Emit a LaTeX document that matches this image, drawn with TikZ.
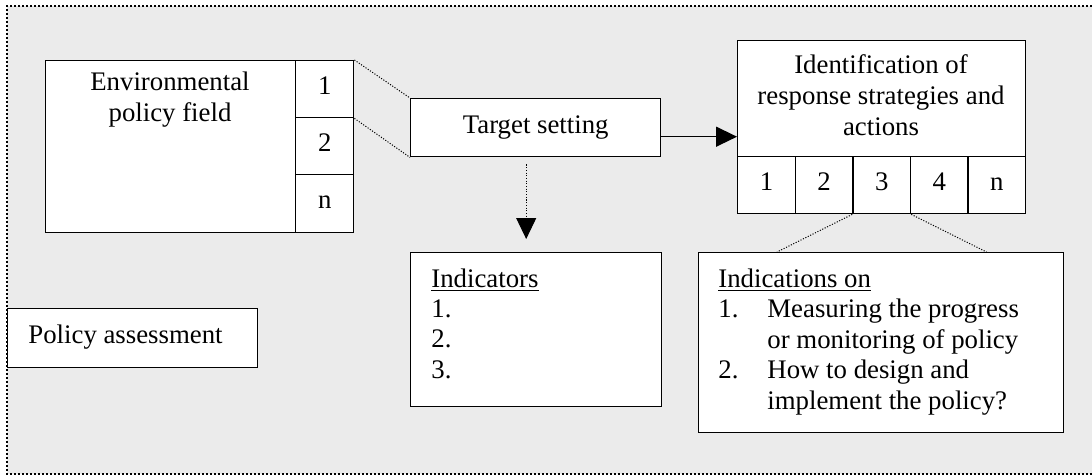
\documentclass[tikz,border=0pt]{standalone}
\usepackage{fontspec}
\setmainfont{Liberation Serif}
\usetikzlibrary{arrows.meta,calc}
\definecolor{bggray}{HTML}{EBEBEB}
\begin{document}
\begin{tikzpicture}[x=0.5pt,y=-0.5pt,
  every node/.style={font=\fontsize{13.4pt}{15.5pt}\selectfont},
  box/.style={draw=black,line width=0.7pt,fill=white,inner sep=0pt,anchor=north west},
  cell/.style={box,text height=0.7em,text depth=0.2em},
  txt/.style={anchor=base west,inner sep=0pt},
  ctxt/.style={align=center,inner sep=0pt},
  thindot/.style={line width=0.5pt,dash pattern=on 0.55pt off 0.8pt},
  bigtip/.style={-{Triangle[length=10.5pt,width=10pt]}}]
\useasboundingbox (0,0) rectangle (1092,476);
\fill[bggray] (7,6) rectangle (1092,474);
\draw[line width=0.6pt,dash pattern=on 0.9pt off 1.1pt] (1092,6) -- (7,6) -- (7,474) -- (1092,474);
% environmental policy field
\node[box,minimum width=125pt,minimum height=86pt] (envm) at (45,60) {};
\node[cell,minimum width=29pt,minimum height=28.5pt] (env1) at (295,60) {1};
\node[cell,minimum width=29pt,minimum height=28.5pt] (env2) at (295,117) {2};
\node[cell,minimum width=29pt,minimum height=29pt] (envn) at (295,174) {n};
\node[ctxt] (envt) at (170,100) {Environmental\\policy field};
% target setting
\node[box,minimum width=125pt,minimum height=29pt] (target) at (410,98) {Target setting};
% identification
\node[box,minimum width=144pt,minimum height=58pt] (ident) at (737,40) {};
\node[ctxt] (identt) at (881,95) {Identification of\\response strategies and\\actions};
\foreach \i/\t in {1/1,2/2,3/3,4/4,5/n}{
  \node[cell,minimum width=28.8pt,minimum height=28.5pt] (ic\i) at ({737+57.6*(\i-1)},156) {\t};
}
% indicators
\node[box,minimum width=125.5pt,minimum height=77pt] (ind) at (410,252) {};
\node[txt] (indh) at (431,287) {\underline{Indicators}};
\node[txt] (ind1) at (431,317) {1.};
\node[txt] (ind2) at (431,347) {2.};
\node[txt] (ind3) at (431,378) {3.};
% indications
\node[box,minimum width=182.5pt,minimum height=90pt] (indc) at (698,252) {};
\node[txt] (indch) at (718,287) {\underline{Indications on}};
\node[txt] (n1) at (718,317) {1.};
\node[txt] (n1a) at (767,317) {Measuring the progress};
\node[txt] (n1b) at (767,348) {or monitoring of policy};
\node[txt] (n2) at (718,378) {2.};
\node[txt] (n2a) at (767,378) {How to design and};
\node[txt] (n2b) at (767,409) {implement the policy?};
% policy assessment
\node[box,minimum width=125pt,minimum height=29.5pt] (pol) at (7,308) {};
\node[txt] (polt) at (28,343) {Policy assessment};
% connectors
\draw[thindot] (env1.north east) -- (target.north west);
\draw[thindot] (env1.south east) -- (target.south west);
\draw[line width=0.7pt,bigtip] ([yshift=-4.5pt]target.east) -- ([yshift=-4.5pt]target.east -| ident.west);
\draw[thindot,bigtip] ([xshift=-4.75pt,yshift=-3.5pt]target.south) -- ([xshift=-4.75pt,yshift=6.5pt]target.south |- ind.north);
\draw[thindot] (ic3.south west) -- ([xshift=39.5pt]indc.north west);
\draw[thindot] (ic3.south east) -- ([xshift=-39pt]indc.north east);
\end{tikzpicture}
\end{document}
